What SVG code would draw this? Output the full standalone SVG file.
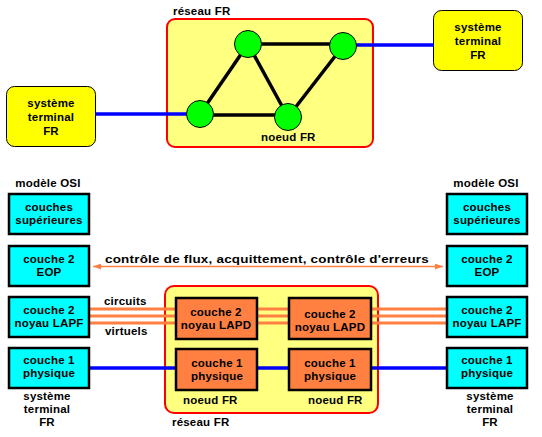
<svg xmlns="http://www.w3.org/2000/svg" width="542" height="437" viewBox="0 0 542 437">
<defs>
<style>
text{font-family:"Liberation Sans",Arial,sans-serif;font-weight:bold;font-size:11.5px;letter-spacing:0.2px;fill:#000}
.c{text-anchor:middle}
.net{fill:#FFFF80;stroke:#FF0000;stroke-width:2}
.term{fill:#FFFF00;stroke:#000;stroke-width:1}
.node{fill:#00FF00;stroke:#000;stroke-width:1}
.osi{fill:#00FFFF;stroke:#000;stroke-width:2.5}
.fr{fill:#FF8040;stroke:#000;stroke-width:2.5}
.blk{stroke:#000;stroke-width:3.5;fill:none}
.blu{stroke:#0000FF;stroke-width:3.5;fill:none}
.vc{stroke:#FF8040;stroke-width:3;fill:none}
.ctl{stroke:#FF8040;stroke-width:1.5;fill:none}
</style>
<marker id="ah" viewBox="0 0 8 6" refX="8" refY="3" markerWidth="8" markerHeight="6" markerUnits="userSpaceOnUse" orient="auto-start-reverse">
<path d="M0,0 L8,3 L0,6 Z" fill="#FF8040"/>
</marker>
</defs>

<!-- Top: network -->
<g id="reseau-top">
<rect class="net" x="167" y="19" width="206" height="128" rx="8"/>
<text x="173" y="15">réseau FR</text>
</g>
<g id="term-left-top">
<rect class="term" x="6.5" y="86.5" width="89" height="60" rx="8"/>
<text class="c" x="51" y="107">système</text>
<text class="c" x="51" y="121">terminal</text>
<text class="c" x="51" y="135">FR</text>
</g>
<g id="term-right-top">
<rect class="term" x="433.5" y="10.5" width="89" height="60" rx="8"/>
<text class="c" x="478" y="31">système</text>
<text class="c" x="478" y="45">terminal</text>
<text class="c" x="478" y="59">FR</text>
</g>

<g id="connectors-top">
<line class="blu" x1="95" y1="114" x2="200" y2="114"/>
<line class="blu" x1="343" y1="45" x2="434" y2="45"/>
<line class="blk" x1="248" y1="44" x2="343" y2="44"/>
<line class="blk" x1="248" y1="44" x2="200" y2="114"/>
<line class="blk" x1="248" y1="44" x2="288" y2="117"/>
<line class="blk" x1="200" y1="115" x2="288" y2="115"/>
<line class="blk" x1="343" y1="46" x2="288" y2="117"/>
</g>

<g id="node-a"><circle class="node" cx="248" cy="44" r="13.5"/></g>
<g id="node-b"><circle class="node" cx="343" cy="46" r="13.5"/></g>
<g id="node-c"><circle class="node" cx="200" cy="114" r="13.5"/></g>
<g id="node-d"><circle class="node" cx="288" cy="117" r="13.5"/><text x="261" y="141">noeud FR</text></g>

<!-- Bottom: layered model -->
<g id="reseau-bottom">
<rect class="net" x="165" y="286" width="213" height="127" rx="9"/>
<text x="172" y="426">réseau FR</text>
</g>

<g id="connectors-bottom">
<line class="vc" x1="89" y1="309" x2="447" y2="309"/>
<line class="vc" x1="89" y1="316" x2="447" y2="316"/>
<line class="vc" x1="89" y1="323" x2="447" y2="323"/>
<line class="blu" x1="89" y1="368" x2="447" y2="368"/>
<line class="ctl" x1="93" y1="266.5" x2="443" y2="266.5" marker-start="url(#ah)" marker-end="url(#ah)"/>
<text class="c" x="267" y="263" textLength="324" lengthAdjust="spacingAndGlyphs">contrôle de flux, acquittement, contrôle d'erreurs</text>
<text x="104" y="305">circuits</text>
<text x="105" y="335">virtuels</text>
</g>

<g id="osi-left">
<text class="c" x="48" y="187">modèle OSI</text>
<g id="l-sup"><rect class="osi" x="9" y="194" width="80" height="40"/><text class="c" x="49" y="211">couches</text><text class="c" x="49" y="224">supérieures</text></g>
<g id="l-eop"><rect class="osi" x="9" y="246" width="80" height="40"/><text class="c" x="49" y="263">couche 2</text><text class="c" x="49" y="276">EOP</text></g>
<g id="l-lapf"><rect class="osi" x="9" y="297" width="80" height="40"/><text class="c" x="49" y="314">couche 2</text><text class="c" x="49" y="327">noyau LAPF</text></g>
<g id="l-phy"><rect class="osi" x="9" y="348" width="80" height="40"/><text class="c" x="49" y="364">couche 1</text><text class="c" x="49" y="377">physique</text></g>
<text class="c" x="47" y="400">système</text>
<text class="c" x="47" y="413">terminal</text>
<text class="c" x="47" y="426">FR</text>
</g>

<g id="osi-right">
<text class="c" x="486" y="187">modèle OSI</text>
<g id="r-sup"><rect class="osi" x="447" y="194" width="80" height="40"/><text class="c" x="487" y="211">couches</text><text class="c" x="487" y="224">supérieures</text></g>
<g id="r-eop"><rect class="osi" x="447" y="246" width="80" height="40"/><text class="c" x="487" y="263">couche 2</text><text class="c" x="487" y="276">EOP</text></g>
<g id="r-lapf"><rect class="osi" x="447" y="297" width="80" height="40"/><text class="c" x="487" y="314">couche 2</text><text class="c" x="487" y="327">noyau LAPF</text></g>
<g id="r-phy"><rect class="osi" x="447" y="348" width="80" height="40"/><text class="c" x="487" y="364">couche 1</text><text class="c" x="487" y="377">physique</text></g>
<text class="c" x="490" y="400">système</text>
<text class="c" x="490" y="413">terminal</text>
<text class="c" x="490" y="426">FR</text>
</g>

<g id="noeud-left">
<g id="nl-lapd"><rect class="fr" x="176" y="298" width="81" height="41"/><text class="c" x="216" y="316">couche 2</text><text class="c" x="216" y="329">noyau LAPD</text></g>
<g id="nl-phy"><rect class="fr" x="176" y="349" width="81" height="41"/><text class="c" x="217" y="367">couche 1</text><text class="c" x="217" y="380">physique</text></g>
<text x="183" y="404">noeud FR</text>
</g>
<g id="noeud-right">
<g id="nr-lapd"><rect class="fr" x="289" y="298" width="82" height="41"/><text class="c" x="330" y="318">couche 2</text><text class="c" x="330" y="331">noyau LAPD</text></g>
<g id="nr-phy"><rect class="fr" x="289" y="349" width="82" height="41"/><text class="c" x="330" y="367">couche 1</text><text class="c" x="330" y="380">physique</text></g>
<text x="308" y="404">noeud FR</text>
</g>
</svg>
